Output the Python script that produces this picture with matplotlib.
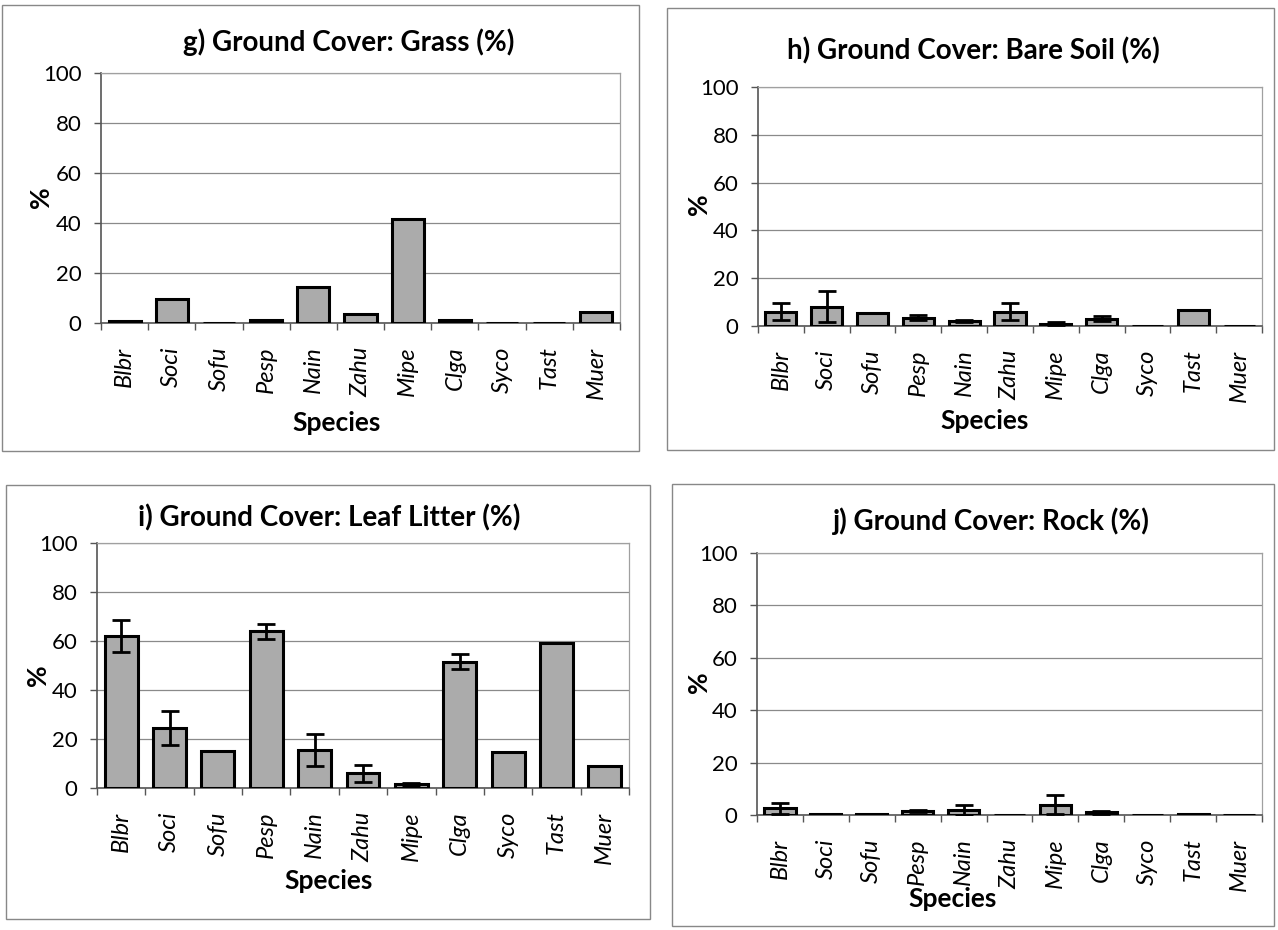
import matplotlib
matplotlib.use('Agg')
import matplotlib.pyplot as plt
from matplotlib.patches import Rectangle
import numpy as np

plt.rcParams['font.family'] = ['Lato', 'DejaVu Sans']

# species codes on every x axis
species = ['Blbr', 'Soci', 'Sofu', 'Pesp', 'Nain', 'Zahu', 'Mipe', 'Clga', 'Syco', 'Tast', 'Muer']

# g) grass
grass = [0.8, 9.5, 0.0, 1.0, 14.5, 3.5, 41.5, 1.0, 0.0, 0.0, 4.5]
grass_err = [0.0, 0.0, 0.0, 0.0, 0.0, 0.0, 0.0, 0.0, 0.0, 0.0, 0.0]

# h) bare soil
soil = [6.0, 8.0, 5.5, 3.5, 2.0, 6.0, 1.0, 3.0, 0.2, 6.5, 0.0]
soil_err = [3.5, 6.5, 0.0, 1.0, 0.5, 3.5, 0.5, 1.0, 0.0, 0.0, 0.0]

# i) leaf litter
litter = [62.0, 24.5, 15.0, 64.0, 15.5, 6.0, 1.5, 51.5, 14.5, 59.0, 9.0]
litter_err = [6.5, 7.0, 0.0, 3.0, 6.5, 3.5, 0.7, 3.0, 0.0, 0.0, 0.0]

# j) rock
rock = [2.5, 0.2, 0.2, 1.5, 2.0, 0.1, 4.0, 1.0, 0.1, 0.5, 0.0]
rock_err = [2.0, 0.0, 0.0, 0.5, 2.0, 0.0, 3.5, 0.5, 0.0, 0.0, 0.0]

W, H = 1278, 930


def fx(px):
    return px / W


def fy(py):
    return 1 - py / H


# draw one excel-style bar panel, positions given in pixels
def bar_panel(fig, rect_px, vals, errs, title, title_xy, species_xy, pct_xy, box_px):
    x0, x1, y0, y1 = rect_px
    ax = fig.add_axes([fx(x0), fy(y0), fx(x1 - x0), fy(y1) - fy(y0)])
    x = np.arange(len(species))
    yerr = [e if e > 0 else np.nan for e in errs]
    ax.bar(x, vals, width=0.68, color='#ababab', edgecolor='black', linewidth=2.2, zorder=3)
    ax.errorbar(x, vals, yerr=yerr, fmt='none', ecolor='black', elinewidth=2,
                capsize=6.5, capthick=2, zorder=4)
    ax.set_xlim(-0.5, len(species) - 0.5)
    ax.set_ylim(0, 100)
    ax.set_yticks(range(0, 101, 20))
    ax.yaxis.grid(True, color='#8a8a8a', linewidth=0.9, zorder=0)
    ax.set_xticks(x)
    ax.set_xticklabels(species, rotation=90, style='italic', fontsize=17)
    ax.set_xticks(np.arange(-0.5, len(species)), minor=True)
    ax.tick_params(axis='x', which='major', length=0, pad=17)
    ax.tick_params(axis='x', which='minor', length=5, width=1, color='#555555', direction='out')
    ax.tick_params(axis='y', labelsize=16, length=5, width=1, color='#555555', pad=9)
    for s in ['top', 'right']:
        ax.spines[s].set_color('#a0a0a0')
        ax.spines[s].set_linewidth(0.9)
    for s in ['left', 'bottom']:
        ax.spines[s].set_color('#555555')
        ax.spines[s].set_linewidth(1.2)

    fig.text(fx(title_xy[0]), fy(title_xy[1]), title, ha='center', va='center',
             fontsize=20, fontweight='bold')
    fig.text(fx(species_xy[0]), fy(species_xy[1]), 'Species', ha='center', va='center',
             fontsize=19, fontweight='bold')
    fig.text(fx(pct_xy[0]), fy(pct_xy[1]), '%', ha='center', va='center',
             fontsize=19, fontweight='bold', rotation=90)

    # thin chart-area frame
    bx0, bx1, by0, by1 = box_px
    fig.add_artist(Rectangle((fx(bx0), fy(by1)), fx(bx1 - bx0), fy(by0) - fy(by1),
                             transform=fig.transFigure, fill=False,
                             edgecolor='#888888', linewidth=1))
    return ax


fig = plt.figure(figsize=(W / 100, H / 100), dpi=100)

bar_panel(fig, (101, 620, 323, 73), grass, grass_err, 'g) Ground Cover: Grass (%)',
          (349, 42), (337, 423), (41, 197), (2, 639, 5, 451))
bar_panel(fig, (758, 1262, 326, 87), soil, soil_err, 'h) Ground Cover: Bare Soil (%)',
          (973, 51), (985, 421), (699, 204), (667, 1274, 8, 450))
bar_panel(fig, (97, 629, 788, 543), litter, litter_err, 'i) Ground Cover: Leaf Litter (%)',
          (329, 518), (329, 881), (38, 675), (6, 650, 485, 919))
bar_panel(fig, (757, 1262, 815, 553), rock, rock_err, 'j) Ground Cover: Rock (%)',
          (991, 521), (953, 899), (699, 682), (672, 1274, 484, 926))

fig.savefig('out.png', dpi=100)
